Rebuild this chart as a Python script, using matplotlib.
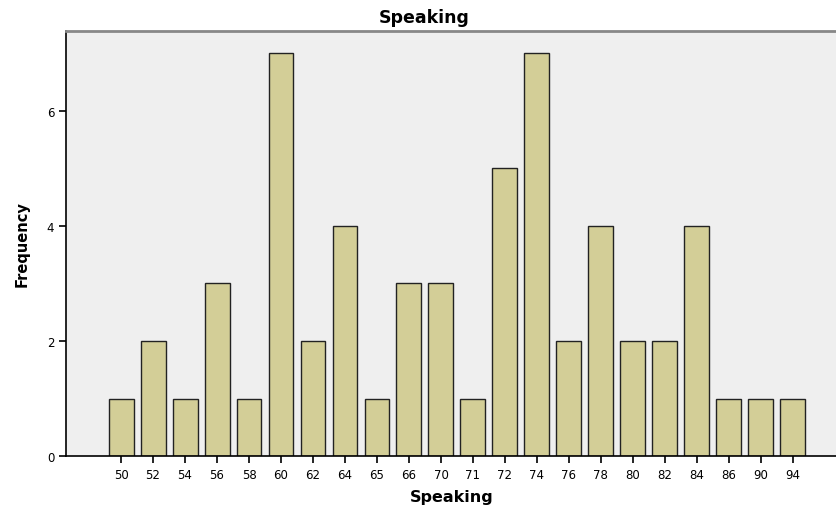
import matplotlib
matplotlib.use('Agg')
import matplotlib.pyplot as plt

# Speaking score frequencies (SPSS style bar chart)
categories = ['50', '52', '54', '56', '58', '60', '62', '64', '65', '66', '70',
              '71', '72', '74', '76', '78', '80', '82', '84', '86', '90', '94']
frequency = [1, 2, 1, 3, 1, 7, 2, 4, 1, 3, 3, 1, 5, 7, 2, 4, 2, 2, 4, 1, 1, 1]

plt.rcParams['font.family'] = ['DejaVu Sans']

fig = plt.figure(figsize=(8.37, 5.06), dpi=100)
ax = fig.add_axes([0.0789, 0.0968, 0.9211, 0.84])
ax.set_facecolor('#efefef')

x = list(range(len(categories)))
ax.bar(x, frequency, width=0.78, color='#d3ce97', edgecolor='#222222', linewidth=1.0)

ax.set_xlim(-1.72, 22.38)
ax.set_ylim(0, 7.39)
ax.set_xticks(x)
ax.set_xticklabels(categories)
ax.set_yticks([0, 2, 4, 6])

ax.tick_params(direction='out', length=5, width=1.2, labelsize=8.5, colors='black')
ax.spines['right'].set_visible(False)
ax.spines['top'].set_color('#888888')
ax.spines['top'].set_linewidth(2)
ax.spines['left'].set_linewidth(1.2)
ax.spines['bottom'].set_linewidth(1.2)

# title sits a bit left of the axes centre in the original
fig.text(0.507, 0.964, 'Speaking', fontsize=12.5, fontweight='bold', ha='center', va='center')
ax.set_xlabel('Speaking', fontsize=11.5, fontweight='bold', labelpad=6)
ax.set_ylabel('Frequency', fontsize=10.5, fontweight='bold', labelpad=12)

fig.savefig('out.png', dpi=100)
